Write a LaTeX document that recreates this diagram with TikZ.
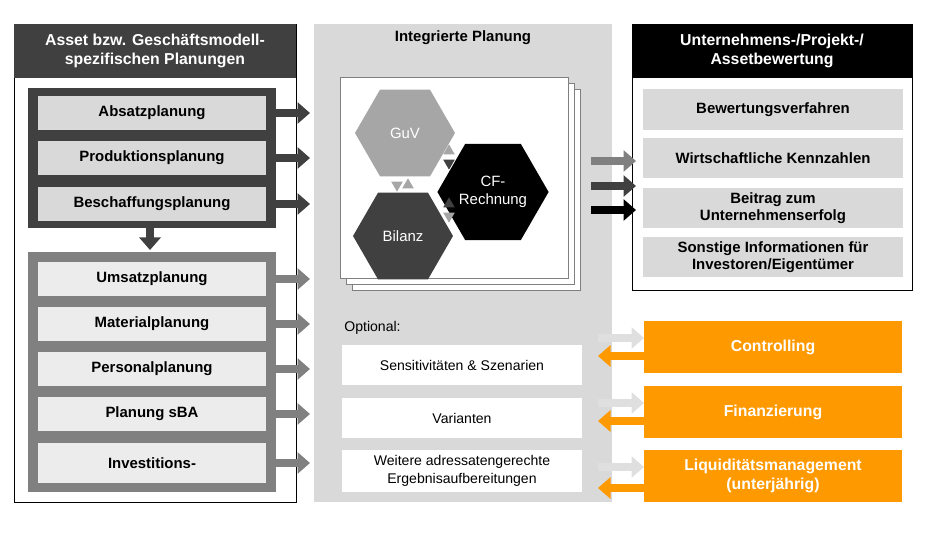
\documentclass[tikz,border=0pt]{standalone}
\usepackage{fontspec}
\setmainfont{Liberation Sans}
\usetikzlibrary{arrows.meta,shapes.geometric,positioning}
\definecolor{dgray}{HTML}{404040}
\definecolor{mgray}{HTML}{808080}
\definecolor{lgray}{HTML}{D9D9D9}
\definecolor{pgray}{HTML}{A6A6A6}
\definecolor{myorange}{HTML}{FF9900}
\begin{document}
\begin{tikzpicture}[x=0.02cm,y=-0.02cm,
  every node/.style={font=\fontsize{8.5}{10}\selectfont\bfseries,align=center,inner sep=0pt},
  Head/.style={text=white,font=\fontsize{9}{11}\selectfont\bfseries},
  BlockArrow/.style={line width=0.17cm,-{Triangle[length=0.25cm,width=0.42cm]}},
  Hexa/.style={regular polygon,regular polygon sides=6,minimum size=2cm,text=white,font=\fontsize{8.5}{10}\selectfont},
  Tri/.style={isosceles triangle,isosceles triangle apex angle=60,minimum size=0.2cm,inner sep=0pt},
  WhiteBox/.style={fill=white,minimum width=4.8cm,font=\fontsize{8}{10}\selectfont},
  GrayBox/.style={fill=lgray,minimum width=5.2cm},
  OrangeBox/.style={fill=myorange,minimum width=5.18cm,minimum height=1.04cm,text=white,font=\fontsize{9}{11}\selectfont\bfseries}
]
\useasboundingbox (0,0) rectangle (930,540);

% left panel
\draw[fill=white,thin] (14,24) rectangle (296,502);
\fill[dgray] (14,24) rectangle (296,78);
\node[Head] (lhead) at (155,51) {Asset bzw. Geschäftsmodell-\\spezifischen Planungen};
\fill[dgray] (28,88) rectangle (276,228);
\fill[mgray] (28,252) rectangle (276,492);
\foreach \n/\y/\t in {abs/113/Absatzplanung,prod/158/Produktionsplanung,besch/204/Beschaffungsplanung}{
  \node[fill=lgray,minimum width=4.56cm,minimum height=0.67cm] (\n) at (152,\y) {\t};
  \coordinate (\n e) at (310,\y);
  \draw[BlockArrow,dgray] (276,\y) -- (\n e);
}
\foreach \n/\y/\h/\t in {ums/279/0.67/Umsatzplanung,mat/324/0.67/Materialplanung,pers/369/0.67/Personalplanung,sba/414/0.67/Planung sBA,inv/463/0.8/Investitions-/\\Abschreibungsplanung}{
  \node[fill=gray!15,minimum width=4.56cm,minimum height=\h cm] (\n) at (152,\y) {\t};
  \coordinate (\n e) at (310,\y);
  \draw[BlockArrow,mgray] (276,\y) -- (\n e);
}
\coordinate (down) at (150,250);
\draw[BlockArrow,dgray] (150,228) -- (down);

% middle panel
\fill[lgray] (314,24) rectangle (612,502);
\node (mhead) at (463,38) {Integrierte Planung};
\draw[gray,fill=white] (352,89) rectangle (580,290);
\draw[gray,fill=white] (346,83) rectangle (574,284);
\draw[gray,fill=white] (340,77) rectangle (568,278);
\node[Hexa,fill=pgray] (guv) at (405,133) {GuV};
\node[Hexa,fill=dgray] (bil) at (403,236) {Bilanz};
\node[Hexa,fill=black] (cf) at (493,192) {CF-\\Rechnung};
\node[Tri,fill=pgray,shape border rotate=-90] (t1) at (397,185) {};
\node[Tri,fill=pgray,shape border rotate=90] (t2) at (408,185) {};
\node[Tri,fill=pgray,shape border rotate=90] (t3) at (449,151) {};
\node[Tri,fill=dgray,shape border rotate=-90] (t4) at (449,163) {};
\node[Tri,fill=dgray,shape border rotate=90] (t5) at (449,204) {};
\node[Tri,fill=pgray,shape border rotate=-90] (t6) at (449,216) {};
\node[font=\fontsize{8}{10}\selectfont,anchor=west] (opt) at (344,328) {Optional:};
\node[WhiteBox,minimum height=0.8cm] (sens) at (462,365) {Sensitivitäten \& Szenarien};
\node[WhiteBox,minimum height=0.8cm] (var) at (462,418) {Varianten};
\node[WhiteBox,minimum height=0.84cm] (weit) at (462,471) {Weitere adressatengerechte\\Ergebnisaufbereitungen};

% right panel
\draw[fill=white,thin] (632,24) rectangle (912,290);
\fill[black] (632,24) rectangle (912,78);
\node[Head] (rhead) at (772,51) {Unternehmens-/Projekt-/\\Assetbewertung};
\node[GrayBox,minimum height=0.82cm] (bew) at (773,110) {Bewertungsverfahren};
\node[GrayBox,minimum height=0.8cm] (kenn) at (773,158) {Wirtschaftliche Kennzahlen};
\node[GrayBox,minimum height=0.82cm] (beit) at (773,208) {Beitrag zum\\Unternehmenserfolg};
\node[GrayBox,minimum height=0.82cm] (sons) at (773,257) {Sonstige Informationen für\\Investoren/Eigentümer};
\foreach \y/\c in {161/mgray,186/dgray,210/black}{
  \coordinate (r\y) at (636,\y);
  \draw[BlockArrow,\c] (591,\y) -- (r\y);
}

% orange boxes
\node[OrangeBox] (contr) at (773,347) {Controlling};
\node[OrangeBox] (fin) at (773,412) {Finanzierung};
\node[OrangeBox] (liq) at (773,476) {Liquiditätsmanagement\\(unterjährig)};
\foreach \n/\a/\b in {contr/338/356,fin/403/421,liq/467/488}{
  \coordinate (in\n) at (644,\a);
  \coordinate (out\n) at (598,\b);
  \draw[BlockArrow,gray!25] (598,\a) -- (in\n);
  \draw[BlockArrow,myorange] (644,\b) -- (out\n);
}
\end{tikzpicture}
\end{document}
